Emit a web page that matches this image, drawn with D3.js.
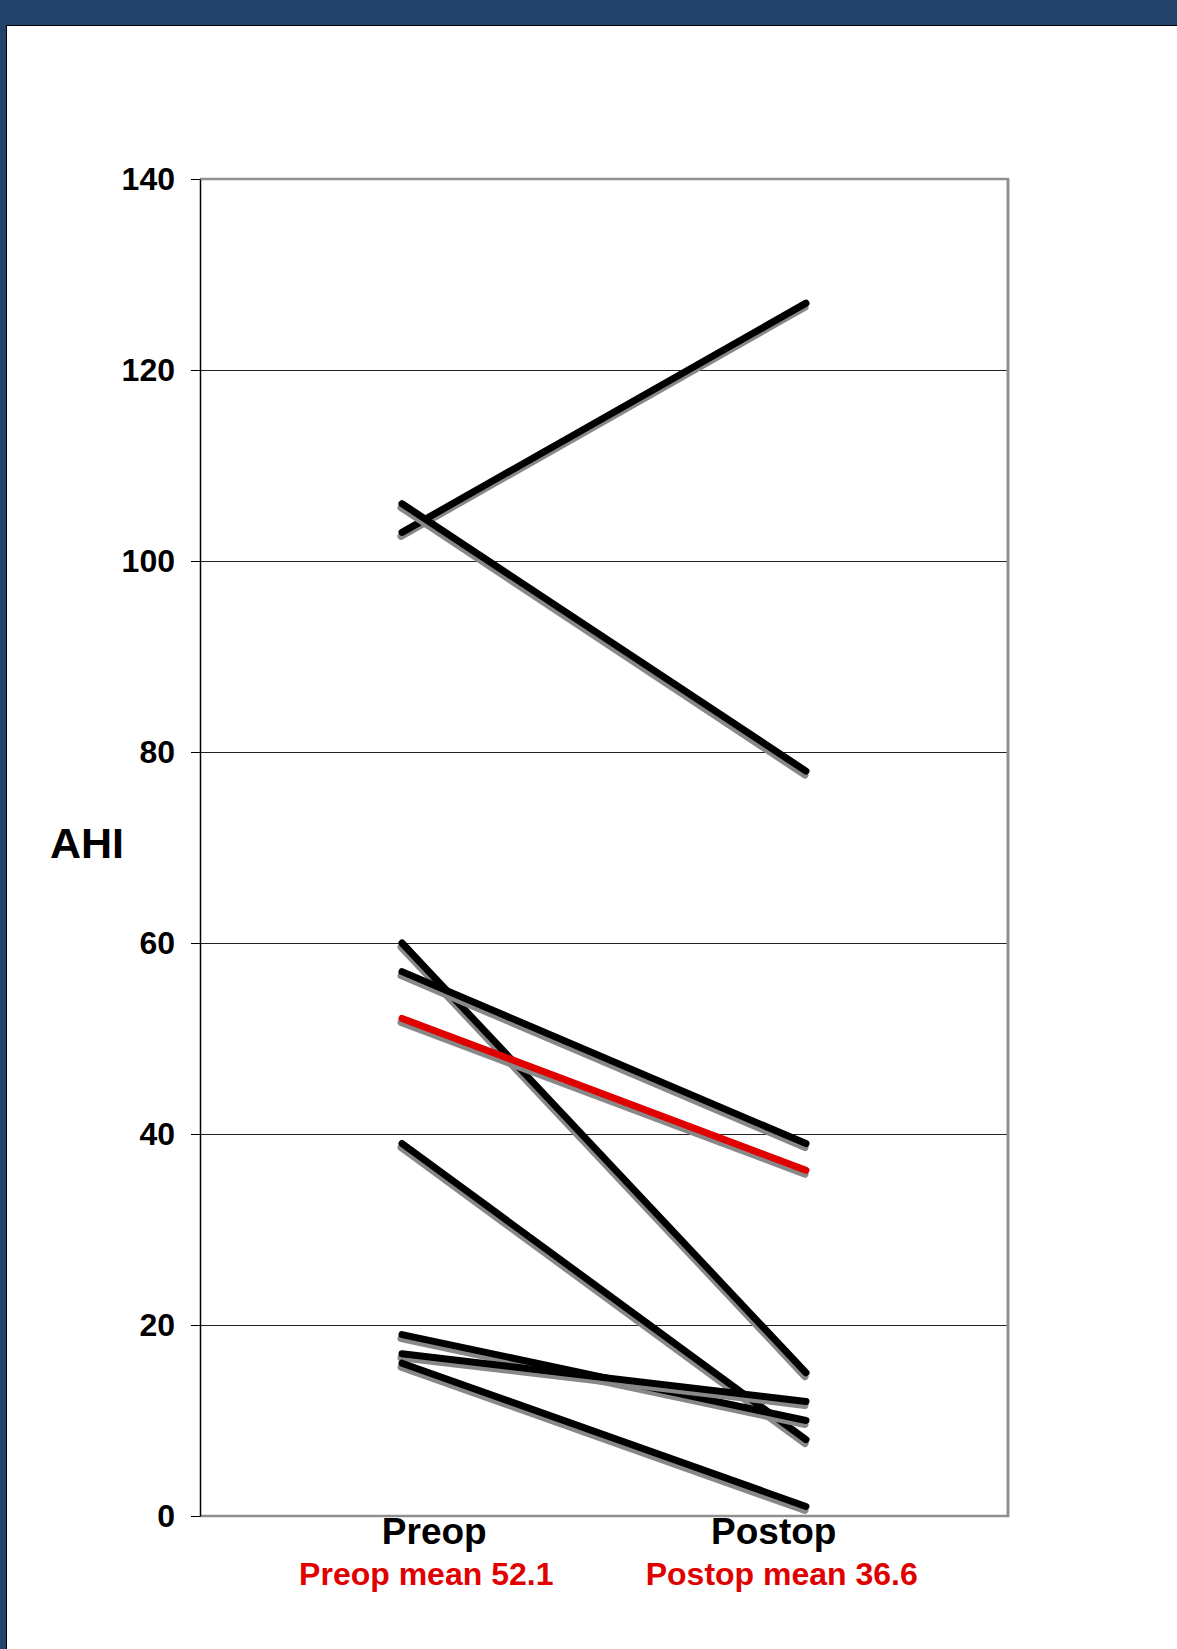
<!DOCTYPE html>
<html>
<head>
<meta charset="utf-8">
<script src="https://cdn.jsdelivr.net/npm/d3@7"></script>
<style>
  html, body { margin: 0; padding: 0; background: #22446a; }
  svg { display: block; }
  text { font-family: "Liberation Sans", Arial, sans-serif; font-weight: bold; }
</style>
</head>
<body>
<svg id="chart" width="1177" height="1649"></svg>
<script>
// ---- data ----
const categories = ["Preop", "Postop"];
const preop  = [103, 106, 60, 57, 39, 19, 17, 16];
const postop = [127, 78, 15, 39, 8, 10, 12, 1];
const meanValues = [52.1, 36.2];
const meanLabels = ["Preop mean 52.1", "Postop mean 36.6"];
const yTicks = [0, 20, 40, 60, 80, 100, 120, 140];
const yLabel = "AHI";

// ---- layout ----
const W = 1177, H = 1649;
const plot = { left: 200, right: 1008, top: 179, bottom: 1516 };
const svg = d3.select("#chart");

// background panel
svg.append("rect").attr("x", 0).attr("y", 0).attr("width", W).attr("height", H).attr("fill", "#22446a");
svg.append("rect").attr("x", 6).attr("y", 25).attr("width", W - 6).attr("height", H - 25)
  .attr("fill", "#000");
svg.append("rect").attr("x", 7).attr("y", 26).attr("width", W - 7).attr("height", H - 26)
  .attr("fill", "#fff");

const x = d3.scalePoint().domain(categories).range([plot.left, plot.right]).padding(0.5);
const xLab = d3.scalePoint().domain(categories).range([plot.left, plot.right]).padding(0.69);
const y = d3.scaleLinear().domain([0, 140]).range([plot.bottom, plot.top]);

// gridlines
svg.append("g").selectAll("line").data(yTicks.filter(t => t > 0 && t < 140)).join("line")
  .attr("x1", plot.left).attr("x2", plot.right)
  .attr("y1", d => y(d)).attr("y2", d => y(d))
  .attr("stroke", "#222").attr("stroke-width", 1).attr("shape-rendering", "crispEdges");

// frame: top & right gray
svg.append("line").attr("x1", plot.left).attr("x2", plot.right + 1)
  .attr("y1", y(140)).attr("y2", y(140)).attr("stroke", "#909090").attr("stroke-width", 2.5);
svg.append("line").attr("x1", plot.right).attr("x2", plot.right)
  .attr("y1", y(140)).attr("y2", plot.bottom + 1).attr("stroke", "#909090").attr("stroke-width", 3);
// bottom axis (gray)
svg.append("line").attr("x1", plot.left).attr("x2", plot.right + 1)
  .attr("y1", plot.bottom).attr("y2", plot.bottom).attr("stroke", "#909090").attr("stroke-width", 2.5);

// y axis
const yAxis = svg.append("g").attr("transform", `translate(${plot.left},0)`)
  .call(d3.axisLeft(y).tickValues(yTicks).tickSize(9).tickPadding(16).tickSizeOuter(0));
yAxis.select(".domain").attr("stroke", "#000").attr("stroke-width", 1.5);
yAxis.selectAll(".tick line").attr("stroke", "#000").attr("stroke-width", 1);
yAxis.selectAll(".tick text").attr("font-size", 32).attr("fill", "#000")
  .attr("font-family", "Liberation Sans, Arial, sans-serif").attr("font-weight", "bold");

// y label
svg.append("text").attr("x", 50).attr("y", 858).attr("font-size", 43).attr("fill", "#000").text(yLabel);

// lines
const pairs = preop.map((v, i) => ({ values: [v, postop[i]], color: "#000" }));
pairs.push({ values: meanValues, color: "#e00000" });

const lineGen = d3.line().x((d, i) => x(categories[i])).y(d => y(d));
const g = svg.append("g");
pairs.forEach(p => {
  g.append("path").attr("d", lineGen(p.values)).attr("transform", "translate(-1,4)")
    .attr("fill", "none").attr("stroke", "#888").attr("stroke-width", 7)
    .attr("stroke-linecap", "round");
  g.append("path").attr("d", lineGen(p.values))
    .attr("fill", "none").attr("stroke", p.color).attr("stroke-width", 7)
    .attr("stroke-linecap", "round");
});

// category labels
svg.append("g").selectAll("text").data(categories).join("text")
  .attr("x", d => xLab(d)).attr("y", 1544).attr("text-anchor", "middle")
  .attr("font-size", 37).attr("fill", "#000").text(d => d);

// mean labels
svg.append("g").selectAll("text").data(meanLabels).join("text")
  .attr("x", (d, i) => xLab(categories[i]) + (i === 0 ? -8 : 8)).attr("y", 1585).attr("text-anchor", "middle")
  .attr("font-size", 32).attr("fill", "#e00000").text(d => d);
</script>
</body>
</html>
